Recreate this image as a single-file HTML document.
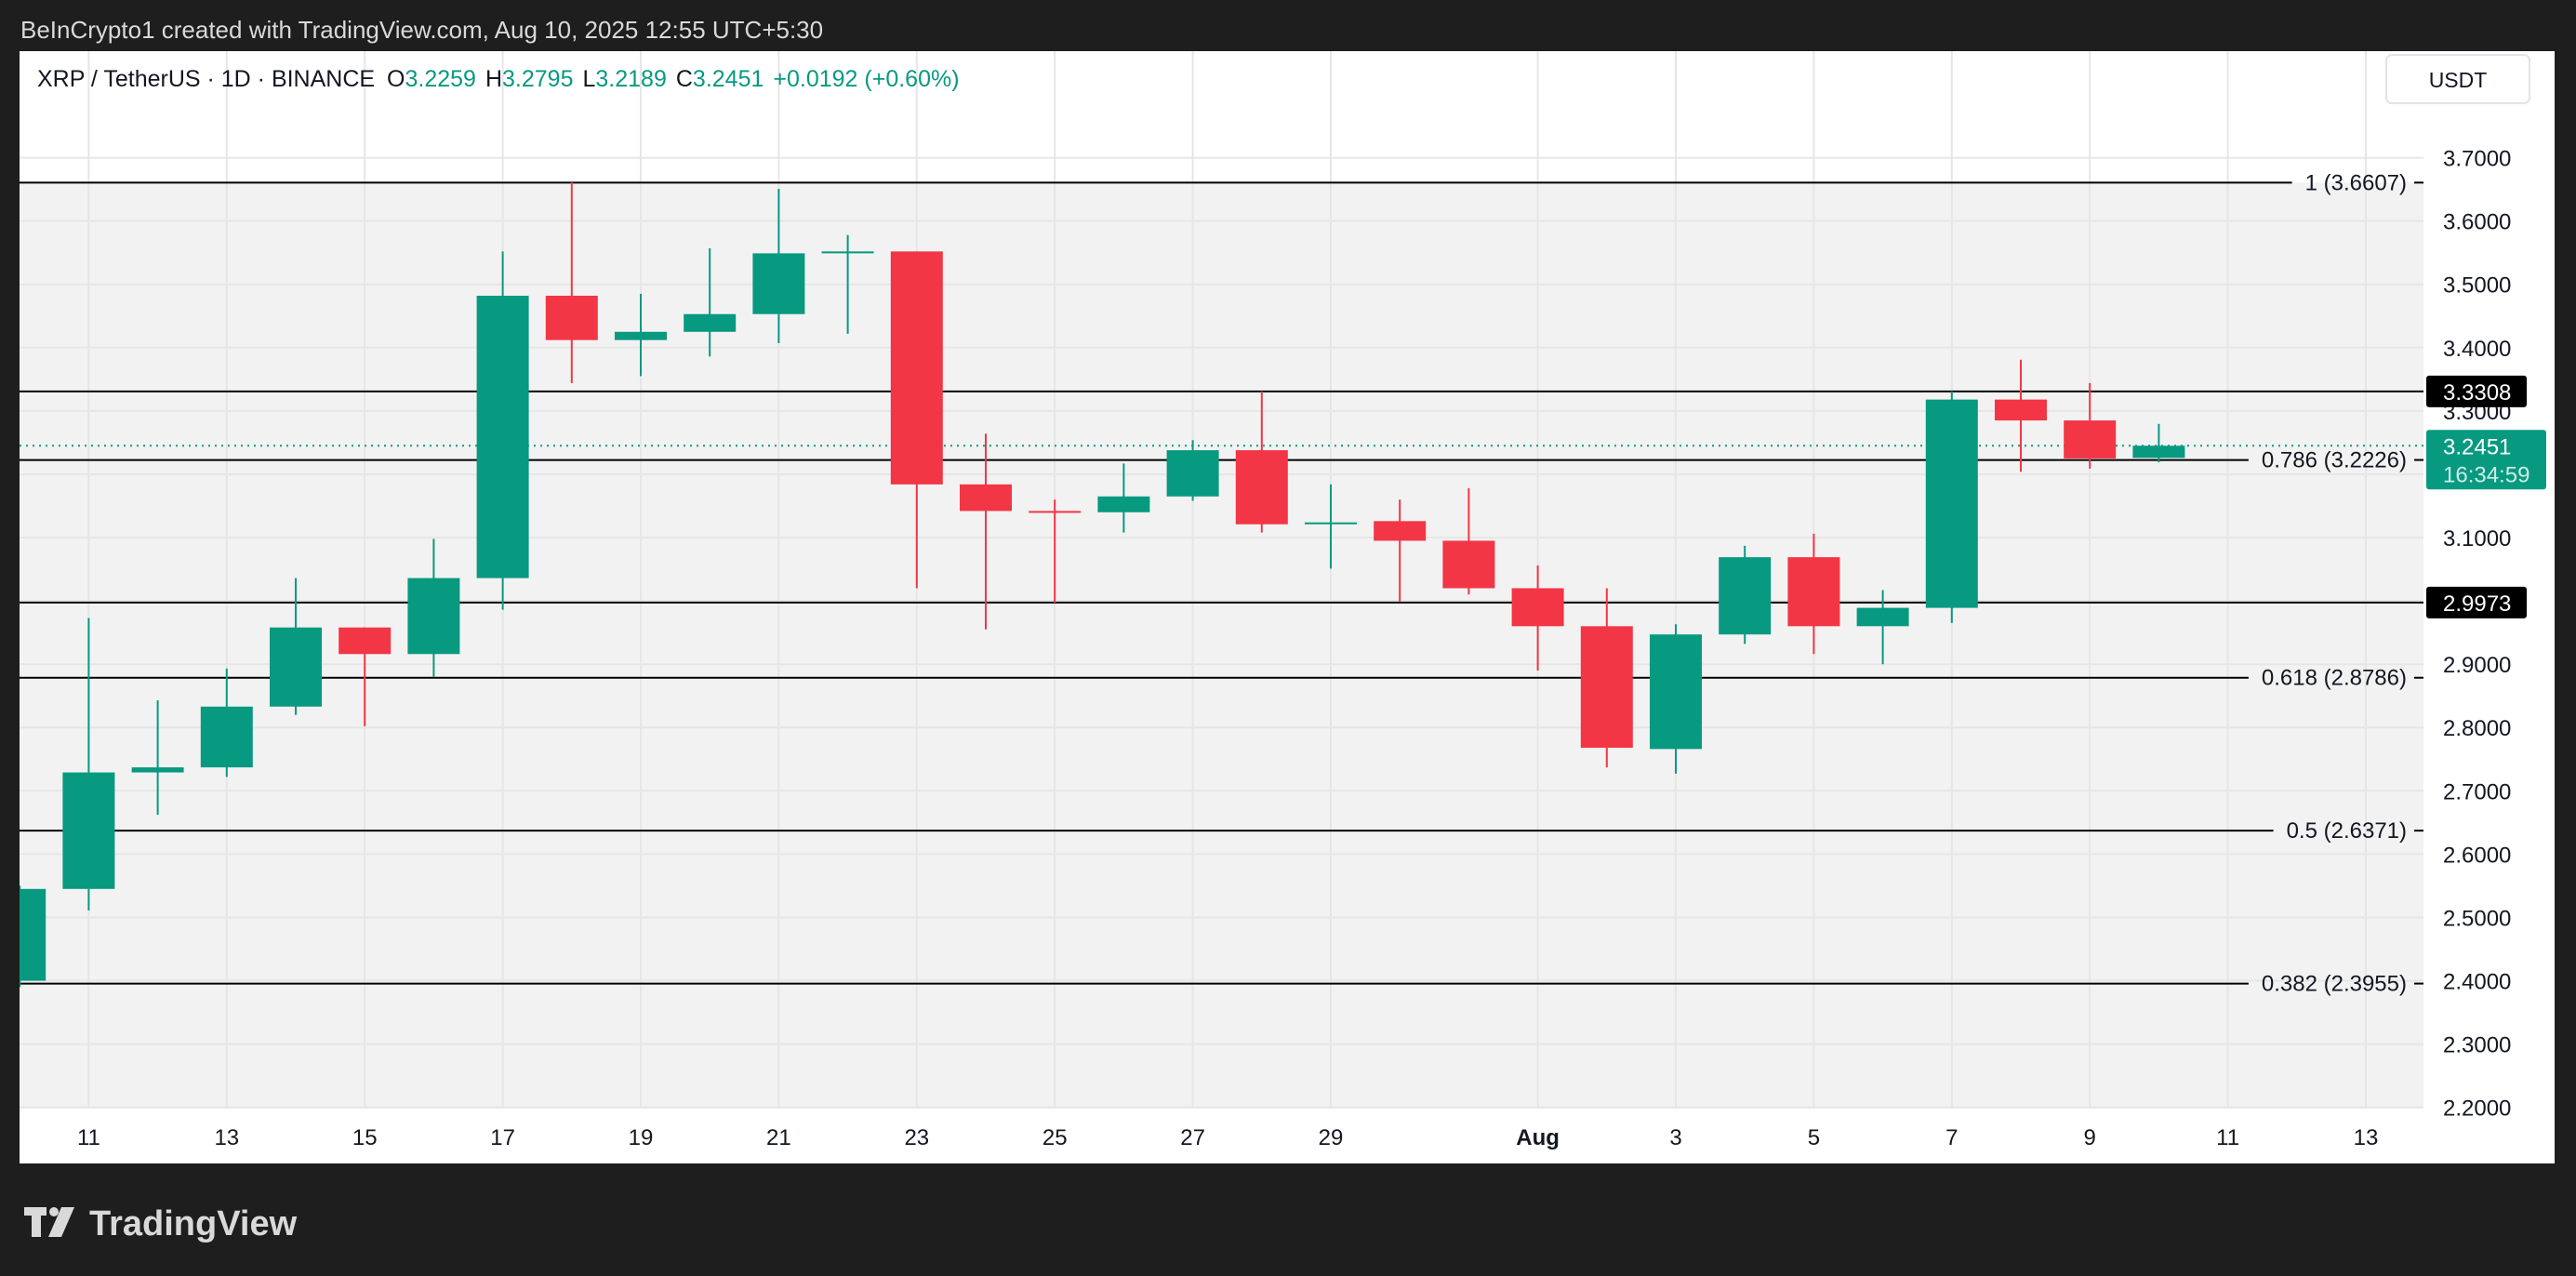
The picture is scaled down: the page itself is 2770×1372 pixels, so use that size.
<!DOCTYPE html>
<html><head><meta charset="utf-8"><style>
html,body{margin:0;padding:0;background:#1e1e1e;}
svg{display:block;font-family:"Liberation Sans",sans-serif;}
</style></head><body>
<svg id="c" width="2770" height="1372" viewBox="0 0 2770 1372">
<rect x="0" y="0" width="2770" height="1372" fill="#1e1e1e"/>
<text x="22" y="41" fill="#d9d9d9" font-size="26">BeInCrypto1 created with TradingView.com, Aug 10, 2025 12:55 UTC+5:30</text>
<rect x="21" y="55" width="2726" height="1196" fill="#ffffff"/>
<g id="grid"></g>
<g id="fib"></g>
<g id="candles"></g>
<g id="axis"></g>
<text x="40" y="93" font-size="25" fill="#131722">XRP / TetherUS · 1D · BINANCE <tspan dx="6">O</tspan><tspan fill="#089981">3.2259</tspan><tspan dx="10">H</tspan><tspan fill="#089981">3.2795</tspan><tspan dx="10">L</tspan><tspan fill="#089981">3.2189</tspan><tspan dx="10">C</tspan><tspan fill="#089981">3.2451</tspan><tspan dx="10" fill="#089981">+0.0192 (+0.60%)</tspan></text>
<rect x="2566" y="59" width="154" height="52" rx="6" fill="#fff" stroke="#e0e3eb" stroke-width="2"/>
<text x="2643" y="94" font-size="23" fill="#131722" text-anchor="middle">USDT</text>
<g>
<rect x="26" y="1298" width="24" height="9" fill="#d9d9d9"/>
<rect x="34" y="1298" width="10" height="32" fill="#d9d9d9"/>
<circle cx="58" cy="1303" r="5" fill="#d9d9d9"/>
<polygon points="66,1298 80,1298 66,1330 52,1330" fill="#d9d9d9"/>
<text x="96" y="1328" font-size="38" font-weight="bold" fill="#d9d9d9">TradingView</text>
</g>
</svg>
<script>
const dates=["10","11","12","13","14","15","16","17","18","19","20","21","22","23","24","25","26","27","28","29","30","31","1","2","3","4","5","6","7","8","9","10"];
const opens=[2.40,2.545,2.729,2.737,2.833,2.958,2.916,3.036,3.482,3.412,3.425,3.453,3.549,3.552,3.184,3.142,3.140,3.165,3.238,3.121,3.126,3.095,3.020,2.960,2.766,2.947,3.069,2.960,2.989,3.318,3.285,3.2259];
const highs=[2.55,2.973,2.843,2.893,3.036,2.958,3.098,3.552,3.661,3.485,3.557,3.651,3.578,3.552,3.264,3.160,3.217,3.254,3.331,3.184,3.160,3.178,3.056,3.020,2.963,3.087,3.106,3.017,3.331,3.381,3.344,3.2795];
const lows=[2.39,2.511,2.662,2.722,2.820,2.802,2.880,2.986,3.344,3.355,3.386,3.407,3.422,3.020,2.955,2.997,3.108,3.158,3.108,3.051,2.999,3.010,2.890,2.737,2.727,2.932,2.916,2.900,2.965,3.204,3.209,3.2189];
const closes=[2.545,2.729,2.737,2.833,2.958,2.916,3.036,3.482,3.412,3.425,3.453,3.549,3.552,3.184,3.142,3.140,3.165,3.238,3.121,3.124,3.095,3.020,2.960,2.768,2.947,3.069,2.960,2.989,3.318,3.285,3.225,3.2451];
const priceTicks=[3.7,3.6,3.5,3.4,3.3,3.2,3.1,3.0,2.9,2.8,2.7,2.6,2.5,2.4,2.3,2.2];
const timeLabels=["11","13","15","17","19","21","23","25","27","29","Aug","3","5","7","9","11","13"];
const timeIdx=[1,3,5,7,9,11,13,15,17,19,22,24,26,28,30,32,34];
const fibLevels=[3.6607,3.2226,2.8786,2.6371,2.3955];
const fibNames=["1","0.786","0.618","0.5","0.382"];
const hLevels=[3.3308,2.9973];
const lastPrice=3.2451;

const NS="http://www.w3.org/2000/svg";
const L=21,R=2606,T=55,B=1192;
function y(p){return 169.6+(3.7-p)*680.7;}
function x(i){return 21.2+74.2*i;}
function el(tag,attrs,parent,txt){const e=document.createElementNS(NS,tag);for(const k in attrs)e.setAttribute(k,attrs[k]);if(txt!==undefined)e.textContent=txt;parent.appendChild(e);return e;}
const grid=document.getElementById('grid'),fib=document.getElementById('fib'),cg=document.getElementById('candles'),ax=document.getElementById('axis');
const clip=el('clipPath',{id:'pc'},document.getElementById('c'));el('rect',{x:L,y:T,width:R-L,height:B-T},clip);
grid.setAttribute('clip-path','url(#pc)');cg.setAttribute('clip-path','url(#pc)');fib.setAttribute('clip-path','url(#pc)');
let z=el('rect',{x:L,y:y(fibLevels[0]),width:R-L,height:B-y(fibLevels[0]),fill:'#f2f2f2'},grid);


priceTicks.forEach(p=>{let g=el('line',{x1:L,x2:R,y1:y(p),y2:y(p),stroke:'#e6e6e6','stroke-width':2},grid);

});
timeIdx.forEach(i=>{let g=el('line',{x1:x(i),x2:x(i),y1:T,y2:B,stroke:'#e6e6e6','stroke-width':2},grid);

});
fibLevels.forEach((p,k)=>{const yy=y(p);const lab=fibNames[k]+" ("+p.toFixed(4)+")";
let t=el('text',{x:2588,y:yy+8,'font-size':24,'text-anchor':'end',fill:'#131722'},fib,lab);


const w=t.getComputedTextLength();
let l1=el('line',{x1:L,x2:2588-w-14,y1:yy,y2:yy,stroke:'#000','stroke-width':2},fib);


el('line',{x1:2596,x2:R,y1:yy,y2:yy,stroke:'#000','stroke-width':2},fib);});
hLevels.forEach(p=>{let l=el('line',{x1:L,x2:R,y1:y(p),y2:y(p),stroke:'#000','stroke-width':2},fib);

});
let dl=el('line',{x1:L,x2:R,y1:y(lastPrice),y2:y(lastPrice),stroke:'#089981','stroke-width':2,'stroke-dasharray':'2 5'},fib);


dates.forEach((d,i)=>{const up=closes[i]>=opens[i];const col=up?'#089981':'#f23645';const cx=x(i);
const g=el('g',{},cg);


el('line',{x1:cx,x2:cx,y1:y(highs[i]),y2:y(lows[i]),stroke:col,'stroke-width':2},g);
const top=y(Math.max(opens[i],closes[i])),bot=y(Math.min(opens[i],closes[i]));
el('rect',{x:cx-28,y:top,width:56,height:Math.max(2,bot-top),fill:col},g);});
priceTicks.forEach(p=>{let t=el('text',{x:2627,y:y(p)+9,'font-size':24,fill:'#131722'},ax,p.toFixed(4));

});
hLevels.forEach(p=>{let r=el('rect',{x:2609,y:y(p)-17,width:108,height:34,rx:3,fill:'#000'},ax);


el('text',{x:2627,y:y(p)+9,'font-size':24,fill:'#fff'},ax,p.toFixed(4));});
let gt=el('rect',{x:2609,y:y(lastPrice)-17,width:129,height:64,rx:3,fill:'#089981'},ax);


el('text',{x:2627,y:y(lastPrice)+9,'font-size':24,fill:'#fff'},ax,lastPrice.toFixed(4));
el('text',{x:2627,y:y(lastPrice)+39,'font-size':24,fill:'#cdeee6'},ax,"16:34:59");
timeLabels.forEach((s,k)=>{let t=el('text',{x:x(timeIdx[k]),y:1231,'font-size':24,'text-anchor':'middle',fill:'#131722','font-weight':s==='Aug'?'bold':'normal'},ax,s);

});
</script>
</body></html>
